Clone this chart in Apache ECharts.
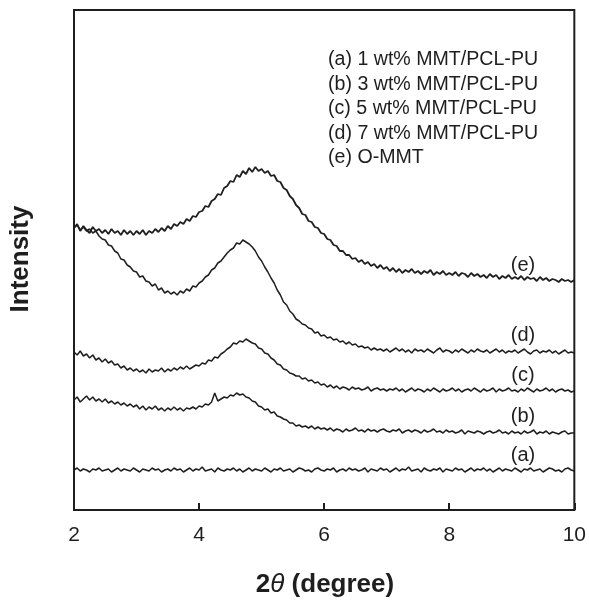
<!DOCTYPE html>
<html lang="en">
<head>
<meta charset="UTF-8">
<title>XRD MMT/PCL-PU</title>
<script src="https://cdn.jsdelivr.net/npm/echarts@6/dist/echarts.min.js"></script>
<style>
  html, body { margin: 0; padding: 0; background: #fff; }
  #main { width: 589px; height: 601px; }
</style>
</head>
<body>
<div id="main"></div>
<script type="text/javascript">
// 2-theta tick labels
var xTicks = ['2', '4', '6', '8', '10'];

// legend lines
var legendLines = ['(a) 1 wt% MMT/PCL-PU', '(b) 3 wt% MMT/PCL-PU', '(c) 5 wt% MMT/PCL-PU', '(d) 7 wt% MMT/PCL-PU', '(e) O-MMT'];
var curveNames = ['(a)', '(b)', '(c)', '(d)', '(e)'];

// scan positions: 2 to 10 degree, step 0.05
var twoTheta = [];
for (var i = 0; i <= 160; i++) twoTheta.push(Math.round((2 + i * 0.05) * 100) / 100);

// intensities (arbitrary units, offset per curve)
var curveA = [40,42,39,41,40,38,41,40,42,39, 40,41,38,40,42,39,41,40,39,42, 40,38,41,40,39,42,40,41,38,40,
  41,39,42,40,41,38,40,42,39,41, 40,43,39,40,41,38,42,40,39,41, 40,42,39,41,38,40,42,39,41,40,
  39,42,40,38,41,40,42,39,40,41, 38,40,42,41,39,40,38,41,42,40, 39,41,40,42,38,40,41,39,42,40,
  41,39,40,42,38,41,40,39,42,40, 41,38,40,42,39,41,40,43,39,40, 41,38,42,40,39,41,40,42,38,41,
  40,39,42,40,41,38,40,42,39,41, 40,42,39,41,38,40,42,39,41,40, 39,42,40,38,41,40,42,39,40,41,
  38,40,42,41,39,40,38,41,42,40, 39];

var curveB = [110,113,108,111,114,110,113,109,111,108, 111,107,109,106,108,105,107,104,106,103,
  105,101,104,100,103,101,104,100,102,99, 102,100,103,100,102,99,102,101,103,101,
  104,103,106,105,108,117,109,111,113,112, 115,114,117,115,116,113,112,109,108,104,
  103,100,101,97,98,94,93,91,90,87, 87,84,85,83,84,82,84,81,83,81, 82,
  80,82,79,81,80,78,81,79,80,82, 79,80,78,81,79,80,78,80,81,79,
  78,80,79,81,77,79,80,78,80,79, 77,80,78,79,81,78,79,77,80,78,
  79,77,78,80,76,79,78,77,79,78, 76,78,79,77,78,80,77,78,76,79,
  77,78,76,79,77,78,80,76,78,77, 79,76,78,77,76,78,79,76,77,77];

var curveC = [158,155,159,154,156,152,155,150,152,148, 151,147,149,145,146,142,144,140,142,139,
  141,138,140,137,141,138,140,139,142,138, 141,139,142,140,143,141,144,141,143,145,
  144,147,146,150,149,153,152,156,158,161, 163,167,166,169,168,171,169,167,166,162,
  161,157,156,152,150,146,145,141,140,137, 136,134,134,131,132,129,130,127,128,125, 126,
  123,125,122,124,121,123,122,120,123,121, 122,120,121,123,119,121,122,120,121,119,
  121,120,122,119,121,118,120,122,119,121, 120,118,121,119,122,120,118,121,119,120,
  122,119,121,118,120,121,119,122,120,118, 121,119,120,122,118,121,119,120,122,119,
  120,118,121,119,122,120,118,121,119,120, 122,119,121,118,120,121,119,120,118,119];

var curveD = [282,285,280,283,279,281,277,279,274,271, 270,265,264,259,257,251,250,245,243,239,
  238,233,234,229,228,224,226,220,222,217, 219,216,218,215,219,217,221,219,224,223,
  227,229,233,235,240,242,247,249,253,257, 260,262,267,266,270,268,266,263,259,253,
  249,243,238,232,227,220,215,208,205,199, 196,191,189,186,185,182,181,177,178,174,
  175,172,173,170,171,168,169,166,168,165, 166,163,164,162,163,160,162,160,161,159, 161,
  158,160,162,159,161,158,160,157,161,159, 160,158,161,159,157,160,162,158,160,159,
  157,160,158,161,159,157,160,158,161,159, 158,160,157,159,161,158,160,157,159,158,
  160,157,159,161,158,156,159,160,157,159, 158,160,157,159,156,158,160,157,158,157];

var curveE = [282,286,279,284,280,277,283,279,281,277, 280,276,281,277,279,275,280,276,279,275,
  279,276,280,275,279,277,281,278,282,279, 284,281,286,284,288,286,291,289,294,293,
  298,299,304,303,309,311,316,315,322,324, 329,328,335,333,339,336,342,338,343,339,
  341,337,339,334,335,329,328,322,320,314, 311,305,302,296,295,289,288,283,282,277,
  276,271,270,265,264,259,259,255,255,251, 252,248,250,246,248,244,246,242,245,241, 243,
  239,242,238,241,237,240,238,241,237,239, 236,239,237,240,235,238,236,239,235,237,
  235,238,234,237,236,233,237,234,236,233, 235,232,236,233,235,231,234,232,235,231,
  233,231,234,230,233,231,232,229,233,230, 232,229,231,230,228,231,229,230,228,230];

var curves = [curveA, curveB, curveC, curveD, curveE];

var myChart = echarts.init(document.getElementById('main'));

var font = 'Arial, "Liberation Sans", Helvetica, sans-serif';
var ink = '#1e1e1e';

var series = curves.map(function (vals, k) {
  return {
    name: curveNames[k],
    type: 'line',
    showSymbol: false,
    symbol: 'none',
    lineStyle: { color: ink, width: k === 4 ? 1.8 : 1.5 },
    data: vals.map(function (v, i) { return [twoTheta[i], v]; })
  };
});

// text blocks: legend lines + curve tags + axis titles
var graphics = legendLines.map(function (t, k) {
  return {
    type: 'text', left: 328, top: 50 + k * 24.5,
    style: { text: t, font: '19.6px ' + font, fill: ink }
  };
});
var tagY = [455, 416, 375, 335, 265];
curveNames.forEach(function (t, k) {
  graphics.push({
    type: 'text', x: 523, y: tagY[k],
    style: { text: t, font: '20px ' + font, fill: ink, align: 'center', verticalAlign: 'middle' }
  });
});
graphics.push({
  type: 'text', x: 21, y: 259, rotation: Math.PI / 2,
  style: { text: 'Intensity', font: 'bold 26px ' + font, fill: ink, align: 'center', verticalAlign: 'middle' }
});
graphics.push({
  type: 'text', x: 325, y: 585,
  style: {
    text: '{n|2}{t|θ}{n| (degree)}',
    align: 'center', verticalAlign: 'middle',
    rich: {
      n: { fontFamily: font, fontWeight: 'bold', fontSize: 26, fill: ink, color: ink },
      t: { fontFamily: font, fontStyle: 'italic', fontWeight: 'normal', fontSize: 26, fill: ink, color: ink }
    }
  }
});

var option = {
  animation: false,
  backgroundColor: '#fff',
  grid: { left: 74, right: 14, top: 10, bottom: 91, show: true, borderColor: ink, borderWidth: 2 },
  xAxis: {
    type: 'value', min: 2, max: 10, interval: 2,
    axisLine: { show: false },
    axisTick: { show: true, inside: true, length: 7, lineStyle: { color: ink, width: 2 } },
    axisLabel: {
      margin: 15, fontSize: 21, fontFamily: font, color: ink,
      formatter: function (v) { return xTicks[(v - 2) / 2]; }
    },
    splitLine: { show: false }
  },
  yAxis: {
    type: 'value', min: 0, max: 500,
    axisLine: { show: false }, axisTick: { show: false },
    axisLabel: { show: false }, splitLine: { show: false }
  },
  graphic: graphics,
  series: series
};

myChart.setOption(option);
</script>
</body>
</html>
